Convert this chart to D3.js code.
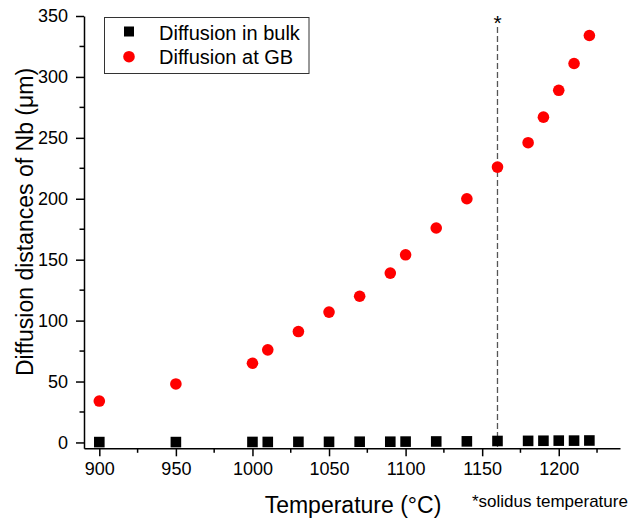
<!DOCTYPE html>
<html><head><meta charset="utf-8">
<script src="https://cdn.jsdelivr.net/npm/d3@7/dist/d3.min.js"></script>
<style>body{margin:0;background:#fff;} text{font-family:"Liberation Sans",Arial,sans-serif;}</style>
</head><body>
<svg id="c" width="641" height="519"></svg>
<script>
const temps = [900, 950, 1000, 1010, 1030, 1050, 1070, 1090, 1100, 1120, 1140, 1160, 1180, 1190, 1200, 1210, 1220];
const bulk = [0.3, 0.3, 0.4, 0.4, 0.5, 0.5, 0.6, 0.6, 0.7, 0.8, 0.9, 1.2, 1.3, 1.4, 1.5, 1.5, 1.6];
const gb = [34, 48, 65, 76, 91, 107, 120, 139, 154, 176, 200, 226, 246, 267, 289, 311, 334];
const xTicks = [900, 950, 1000, 1050, 1100, 1150, 1200];
const yTicks = [0, 50, 100, 150, 200, 250, 300, 350];
const solidus = 1160;
const seriesNames = ["Diffusion in bulk", "Diffusion at GB"];

const svg = d3.select("#c");
const x = d3.scaleLinear().domain([890, 1240]).range([84, 620]);
const y = d3.scaleLinear().domain([-4.8, 350]).range([448.3, 16]);

// axes
const xAxis = d3.axisBottom(x).tickValues(xTicks).tickSize(8).tickSizeOuter(0).tickPadding(6).tickFormat(d3.format("d"));
const gx = svg.append("g").attr("transform", "translate(0,448.3)").call(xAxis);
const xMinor = d3.range(925, 1240, 50);
gx.selectAll(".minor").data(xMinor).enter().append("line")
  .attr("x1", d => x(d)).attr("x2", d => x(d)).attr("y1", 0).attr("y2", 4.5)
  .attr("stroke", "#000").attr("stroke-width", 1.5);

const yAxis = d3.axisLeft(y).tickValues(yTicks).tickSize(8).tickSizeOuter(0).tickPadding(8);
const gy = svg.append("g").attr("transform", "translate(84,0)").call(yAxis);
const yMinor = d3.range(25, 350, 50);
gy.selectAll(".minor").data(yMinor).enter().append("line")
  .attr("x1", 0).attr("x2", -4.5).attr("y1", d => y(d)).attr("y2", d => y(d))
  .attr("stroke", "#000").attr("stroke-width", 1.5);

[gx, gy].forEach(g => {
  g.select(".domain").attr("stroke-width", 1.5);
  g.selectAll(".tick line").attr("stroke-width", 1.5);
  g.selectAll(".tick text").attr("font-size", 18).attr("fill", "#000").style("font-family", "'Liberation Sans',Arial,sans-serif");
});

// solidus line
svg.append("line").attr("x1", x(solidus)).attr("x2", x(solidus))
  .attr("y1", 27).attr("y2", 448.3)
  .attr("stroke", "#555").attr("stroke-width", 1.3).attr("stroke-dasharray", "6,3");
svg.append("text").attr("x", x(solidus)).attr("y", 30).attr("text-anchor", "middle")
  .attr("font-size", 21).text("*");

// data
svg.append("g").selectAll("rect").data(temps).enter().append("rect")
  .attr("x", (d) => x(d) - 5.3).attr("y", (d, i) => y(bulk[i]) - 5.3)
  .attr("width", 10.6).attr("height", 10.6).attr("fill", "#000");
svg.append("g").selectAll("circle").data(temps).enter().append("circle")
  .attr("cx", d => x(d)).attr("cy", (d, i) => y(gb[i])).attr("r", 5.8).attr("fill", "#ff0000");

// legend
const lg = svg.append("g");
lg.append("rect").attr("x", 104.5).attr("y", 17.5).attr("width", 204.5).attr("height", 56)
  .attr("fill", "#fff").attr("stroke", "#333").attr("stroke-width", 1);
lg.append("rect").attr("x", 124).attr("y", 26.5).attr("width", 10).attr("height", 10).attr("fill", "#000");
lg.append("circle").attr("cx", 129).attr("cy", 56.7).attr("r", 5.8).attr("fill", "#ff0000");
lg.append("text").attr("x", 159).attr("y", 40).attr("font-size", 20).text(seriesNames[0]);
lg.append("text").attr("x", 159).attr("y", 64).attr("font-size", 20).text(seriesNames[1]);

// titles
svg.append("text").attr("x", 353).attr("y", 513).attr("text-anchor", "middle")
  .attr("font-size", 23).text("Temperature (°C)");
svg.append("text").attr("x", 472).attr("y", 507).attr("font-size", 17).text("*solidus temperature");
svg.append("text").attr("transform", "translate(33,222) rotate(-90)").attr("text-anchor", "middle")
  .attr("font-size", 23).text("Diffusion distances of Nb (μm)");
</script>
</body></html>
